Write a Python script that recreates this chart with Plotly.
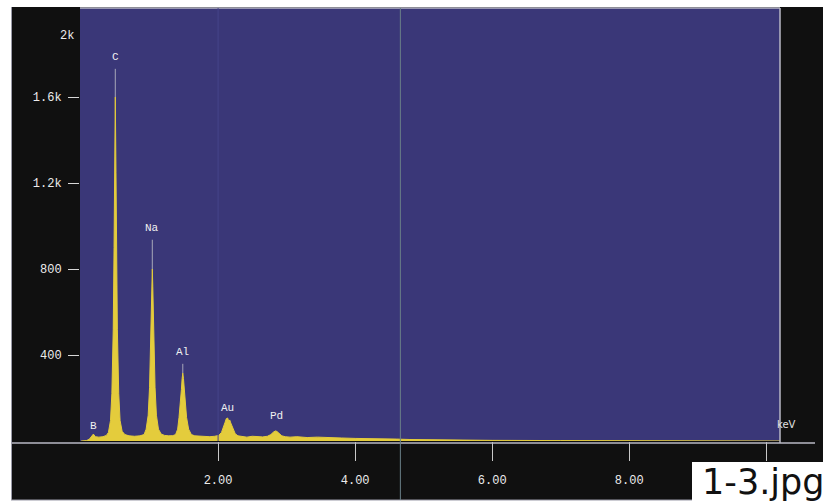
import plotly.graph_objects as go

# EDS spectrum: energy (keV) vs counts, read point by point
energy = [0.00, 0.08, 0.12, 0.15, 0.18, 0.21, 0.26, 0.32, 0.37,
          0.40, 0.43, 0.45, 0.47, 0.482, 0.49, 0.50, 0.51, 0.518, 0.53, 0.55, 0.57, 0.60, 0.64,
          0.70, 0.78, 0.86, 0.92,
          0.95, 0.98, 1.00, 1.015, 1.025, 1.033, 1.04, 1.047, 1.055, 1.065, 1.08, 1.10, 1.13, 1.17,
          1.22, 1.28, 1.34, 1.38,
          1.41, 1.43, 1.45, 1.465, 1.475, 1.485, 1.495, 1.505, 1.52, 1.54, 1.57, 1.61,
          1.66, 1.72, 1.80, 1.88, 1.95, 2.01,
          2.05, 2.08, 2.10, 2.12, 2.14, 2.155, 2.17, 2.185, 2.20, 2.22, 2.25, 2.29,
          2.35, 2.42, 2.50, 2.58, 2.65, 2.72,
          2.77, 2.81, 2.84, 2.86, 2.89, 2.93, 2.98,
          3.05, 3.15, 3.30, 3.45, 3.60, 3.80, 4.00, 4.20, 4.40, 4.60, 4.80, 5.00,
          5.40, 6.00, 7.00, 8.00, 9.00, 10.20]
counts = [0, 2, 8, 22, 32, 20, 18, 20, 26,
          40, 95, 220, 520, 900, 1250, 1600, 1250, 900, 520, 220, 95, 45, 30,
          24, 22, 24, 30,
          55, 120, 250, 420, 600, 720, 800, 720, 600, 420, 250, 120, 55, 32,
          26, 24, 25, 30,
          55, 110, 170, 240, 290, 316, 290, 240, 170, 110, 55, 30,
          24, 22, 20, 20, 22, 26,
          40, 62, 85, 104, 107, 92, 98, 84, 70, 52, 34, 24,
          20, 18, 22, 20, 19, 22,
          30, 42, 47, 44, 34, 24, 20,
          18, 20, 16, 18, 15, 14, 12, 12, 10, 9, 7, 6,
          4, 3, 2, 1, 1, 0]

# Element markers: energy, peak top, label height
elements = ["B", "C", "Na", "Al", "Au", "Pd"]
elem_energy = [0.18, 0.50, 1.04, 1.485, 2.14, 2.85]
elem_peak = [32, 1600, 800, 316, 107, 47]
elem_label_y = [70, 1786, 991, 414, 153, 116]

y_tickvals = [400, 800, 1200, 1600]
y_ticktext = ["400", "800", "1.2k", "1.6k"]
x_tickvals = [2, 4, 6, 8, 10]
x_ticktext = ["2.00", "4.00", "6.00", "8.00", ""]

YELLOW = "#e4cc3c"
PLOT_BG = "#3a3778"
LABEL_FONT = dict(family="Liberation Mono, DejaVu Sans Mono, monospace", size=12, color="#ececec")

fig = go.Figure()
fig.add_trace(go.Scatter(
    x=energy, y=counts, mode="lines", fill="tozeroy",
    line=dict(color=YELLOW, width=1), fillcolor=YELLOW,
    hoverinfo="skip", showlegend=False,
))

W, H = 823, 504
L, R, T, B = 80, 43, 8, 63
pw, ph = W - L - R, H - T - B


def px_x(p):
    return (p - L) / pw


def px_y(p):
    return (H - B - p) / ph


shapes = []
# white page border around the dark instrument panel
shapes.append(dict(type="rect", xref="paper", yref="paper", x0=px_x(0), x1=px_x(W),
                   y0=px_y(0), y1=px_y(7), fillcolor="white", line_width=0, layer="below"))
shapes.append(dict(type="rect", xref="paper", yref="paper", x0=px_x(0), x1=px_x(11),
                   y0=px_y(0), y1=px_y(H), fillcolor="white", line_width=0, layer="below"))
shapes.append(dict(type="rect", xref="paper", yref="paper", x0=px_x(0), x1=px_x(W),
                   y0=px_y(500), y1=px_y(H), fillcolor="white", line_width=0, layer="below"))
# panel edges
for (x0, y0, x1, y1) in [(11.5, 7, 11.5, 500), (11, 500, W, 500)]:
    shapes.append(dict(type="line", xref="paper", yref="paper", x0=px_x(x0), x1=px_x(x1),
                       y0=px_y(y0), y1=px_y(y1), line=dict(color="#9a9aa8", width=1)))
# plot frame: top, right, bottom
for (x0, y0, x1, y1) in [(80, 8, 780, 8), (780, 8, 780, 443), (12, 443, 815, 443)]:
    shapes.append(dict(type="line", xref="paper", yref="paper", x0=px_x(x0), x1=px_x(x1),
                       y0=px_y(y0), y1=px_y(y1), line=dict(color="#b8b8c4", width=1.5)))
# cursor line and faint 2 keV guide
shapes.append(dict(type="line", xref="x", yref="paper", x0=4.66, x1=4.66,
                   y0=1, y1=px_y(500), line=dict(color="#6a8088", width=1)))
shapes.append(dict(type="line", xref="x", yref="paper", x0=2.0, x1=2.0,
                   y0=0, y1=1, line=dict(color="#46448a", width=1)))
# marker lines from element labels down to the peaks
for e, pk, ly in zip(elem_energy, elem_peak, elem_label_y):
    if pk > 200:
        shapes.append(dict(type="line", xref="x", yref="y", x0=e, x1=e,
                           y0=pk, y1=ly - 55, line=dict(color="#a8a8b8", width=1)))
# file name box
shapes.append(dict(type="rect", xref="paper", yref="paper", x0=px_x(692), x1=px_x(W + 2),
                   y0=px_y(462), y1=px_y(H + 2), fillcolor="white", line_width=0, layer="above"))

annotations = []
for name, e, ly in zip(elements, elem_energy, elem_label_y):
    annotations.append(dict(x=e, y=ly, xref="x", yref="y", text=name, showarrow=False,
                            font=dict(family=LABEL_FONT["family"], size=11, color="#f0f0f0")))
annotations.append(dict(x=px_x(58), y=px_y(27), xref="paper", yref="paper", text="2k",
                        showarrow=False, font=LABEL_FONT))
annotations.append(dict(x=px_x(798), y=px_y(432), xref="paper", yref="paper", text="keV",
                        showarrow=False, font=dict(family="DejaVu Sans", size=10, color="#e0e0e0")))
annotations.append(dict(x=px_x(700), y=px_y(482), xref="paper", yref="paper", text="1-3.jpg",
                        xanchor="left", yanchor="middle", showarrow=False,
                        font=dict(family="DejaVu Sans", size=35, color="#111111")))

fig.update_layout(
    width=W, height=H,
    margin=dict(l=L, r=R, t=T, b=B),
    paper_bgcolor="#101010",
    plot_bgcolor=PLOT_BG,
    shapes=shapes,
    annotations=annotations,
    showlegend=False,
    xaxis=dict(range=[-0.015, 10.2], tickvals=x_tickvals, ticktext=x_ticktext,
               ticks="outside", ticklen=19, tickwidth=1, tickcolor="#c8c8c8",
               ticklabelstandoff=9, tickfont=LABEL_FONT,
               showgrid=False, zeroline=False, showline=False, fixedrange=True),
    yaxis=dict(range=[0, 2014], tickvals=y_tickvals, ticktext=y_ticktext,
               ticks="outside", ticklen=11, tickwidth=1, tickcolor="#d8d8d8",
               ticklabelstandoff=4, tickfont=LABEL_FONT,
               showgrid=False, zeroline=False, showline=False, fixedrange=True),
)

fig.write_html("out.html")
